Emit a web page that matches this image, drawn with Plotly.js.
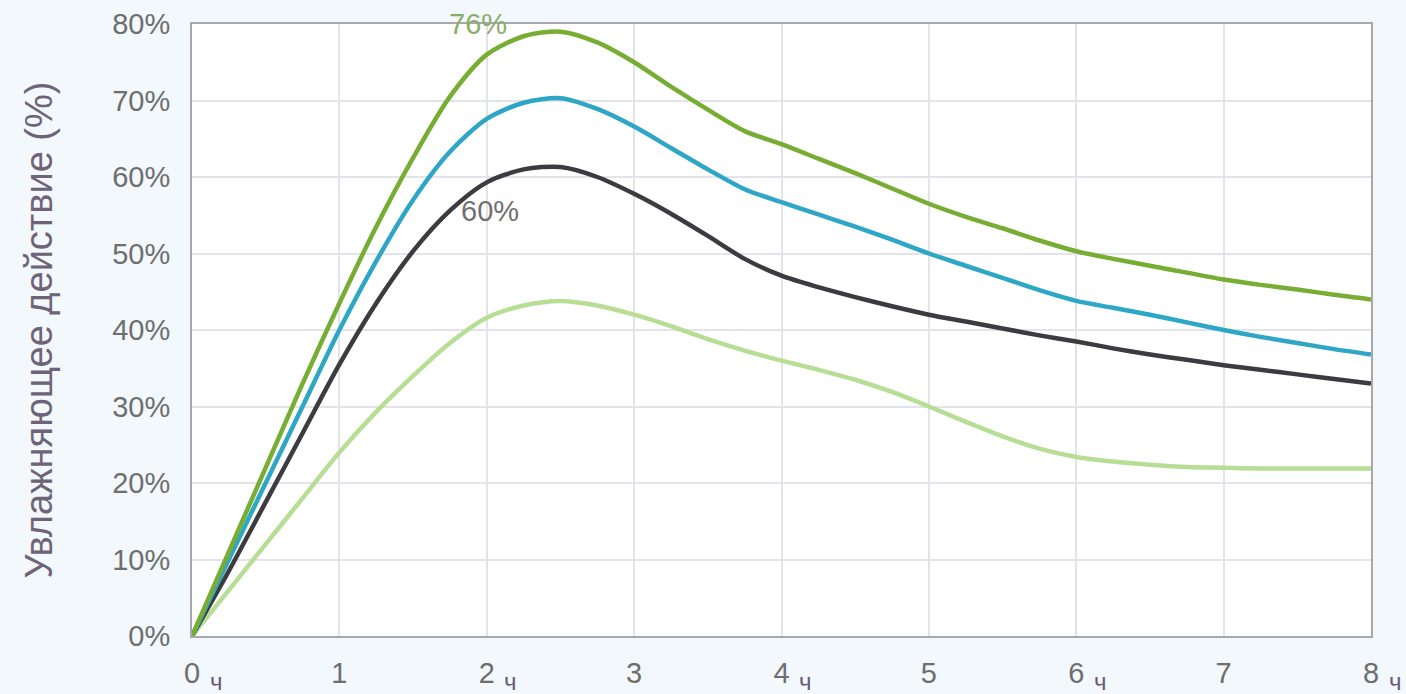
<!DOCTYPE html>
<html>
<head>
<meta charset="utf-8">
<script src="https://cdn.plot.ly/plotly-3.0.1.min.js"></script>
<style>
html,body{margin:0;padding:0;background:#f2f8fb;}
#chart{width:1406px;height:694px;}
</style>
</head>
<body>
<div id="chart"></div>
<script>
// Hours
const hours = [0, 0.25, 0.5, 0.75, 1, 1.25, 1.5, 1.75, 2, 2.25, 2.5, 2.75, 3, 3.25, 3.5, 3.75, 4,
               4.25, 4.5, 4.75, 5, 5.25, 5.5, 5.75, 6, 6.25, 6.5, 6.75, 7, 7.25, 7.5, 7.75, 8];
// Moisturizing effect (%)
const seriesGreen = [0, 11, 22, 33, 43.5, 53.5, 62.5, 70.5, 76, 78.4, 79, 77.6, 75, 71.8, 68.8, 66, 64.3,
                     62.4, 60.5, 58.5, 56.5, 54.8, 53.3, 51.7, 50.3, 49.3, 48.4, 47.5, 46.6, 45.9, 45.3, 44.6, 44];
const seriesCyan  = [0, 10, 20, 30, 40, 49, 57, 63.3, 67.6, 69.7, 70.3, 68.9, 66.6, 63.8, 61, 58.4, 56.7,
                     55.1, 53.5, 51.8, 50, 48.4, 46.8, 45.2, 43.8, 42.9, 42, 41, 40, 39.1, 38.3, 37.5, 36.8];
const seriesDark  = [0, 8.5, 17.5, 26.5, 35.5, 43.5, 50.3, 55.6, 59.3, 61, 61.3, 60, 57.8, 55.2, 52.3, 49.3, 47.1,
                     45.6, 44.3, 43.1, 42, 41.1, 40.2, 39.3, 38.5, 37.6, 36.8, 36.1, 35.4, 34.8, 34.2, 33.6, 33];
const seriesLight = [0, 6, 12, 18, 24, 29.3, 34, 38.3, 41.6, 43.2, 43.8, 43.2, 42, 40.5, 38.8, 37.3, 36,
                     34.8, 33.5, 31.9, 30, 28, 26.1, 24.5, 23.4, 22.8, 22.4, 22.1, 22, 21.9, 21.9, 21.9, 21.9];

const xTickVals = [0, 1, 2, 3, 4, 5, 6, 7, 8];
const xTickText = ['0', '1', '2', '3', '4', '5', '6', '7', '8'];
const hourUnitTicks = [0, 2, 4, 6, 8];
const hourUnit = 'ч';
const yTickVals = [0, 10, 20, 30, 40, 50, 60, 70, 80];
const yTickText = ['0%', '10%', '20%', '30%', '40%', '50%', '60%', '70%', '80%'];
const yTitle = 'Увлажняющее действие (%)';
const labels = [{x: 1.94, y: 80, text: '76%', color: '#8aad6c'}, {x: 2.02, y: 55.6, text: '60%', color: '#707070'}];

const mk = (y, color, w) => ({
  x: hours, y: y, type: 'scatter', mode: 'lines',
  line: {color: color, width: w, shape: 'spline', smoothing: 0.8},
  hoverinfo: 'skip', showlegend: false
});

const data = [
  mk(seriesLight, '#b8dd95', 4.5),
  mk(seriesDark, '#3b3b40', 4.5),
  mk(seriesCyan, '#2ea7c6', 4.5),
  mk(seriesGreen, '#77ad32', 4.5)
];

const annotations = [];
labels.forEach(l => annotations.push({
  x: l.x, y: l.y, xref: 'x', yref: 'y', text: l.text, showarrow: false,
  font: {family: 'Liberation Sans, Arial, sans-serif', size: 29, color: l.color},
  xanchor: 'center', yanchor: 'middle'
}));
hourUnitTicks.forEach(v => annotations.push({
  x: v, y: 0, xref: 'x', yref: 'paper', text: hourUnit, showarrow: false,
  font: {family: 'Liberation Sans, Arial, sans-serif', size: 24, color: '#6a5a7c'},
  xanchor: 'center', yanchor: 'middle', xshift: 24, yshift: -45
}));

const layout = {
  width: 1406, height: 694,
  paper_bgcolor: '#f2f8fb', plot_bgcolor: '#ffffff',
  margin: {l: 192, r: 35, t: 24, b: 58},
  font: {family: 'Liberation Sans, Arial, sans-serif', color: '#707070'},
  xaxis: {
    range: [0, 8], tickvals: xTickVals, ticktext: xTickText,
    showgrid: true, gridcolor: '#e3e3ea', gridwidth: 2,
    showline: true, linecolor: '#a8a8ac', linewidth: 2, mirror: true,
    zeroline: false, ticks: '', fixedrange: true,
    tickfont: {size: 29, color: '#6e6e6e'}, ticklabelstandoff: 10
  },
  yaxis: {
    range: [0, 80], tickvals: yTickVals, ticktext: yTickText,
    showgrid: true, gridcolor: '#e3e3ea', gridwidth: 2,
    showline: true, linecolor: '#a8a8ac', linewidth: 2, mirror: true,
    zeroline: false, ticks: '', fixedrange: true,
    tickfont: {size: 29, color: '#6e6e6e'}, ticklabelstandoff: 14,
    title: {text: yTitle, font: {size: 38, color: '#6e6378'}, standoff: 48}
  },
  annotations: annotations
};

Plotly.newPlot('chart', data, layout, {displayModeBar: false, staticPlot: true});
</script>
</body>
</html>
